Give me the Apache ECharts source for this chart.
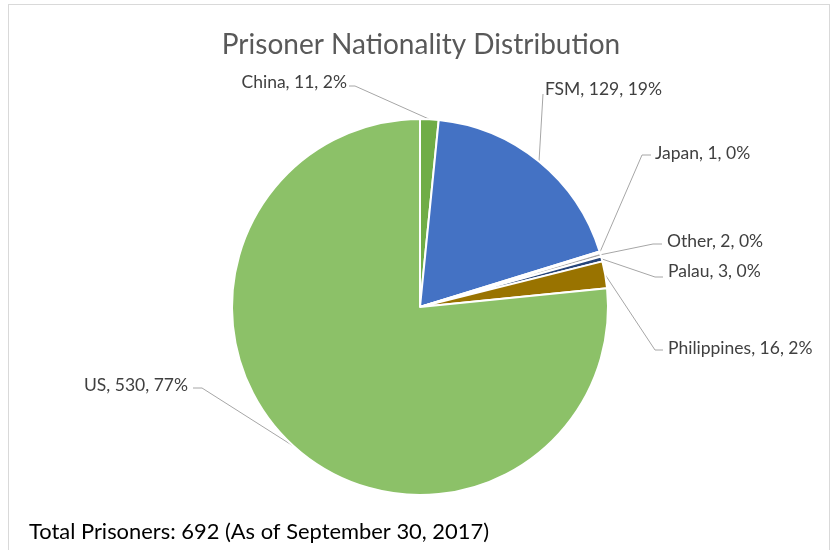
<!DOCTYPE html>
<html>
<head>
<meta charset="utf-8">
<script src="https://cdn.jsdelivr.net/npm/echarts@6/dist/echarts.min.js"></script>
<style>
html,body{margin:0;padding:0;background:#fff;}
#frame{position:absolute;left:8px;top:4px;width:822px;height:560px;border:1px solid #D9D9D9;box-sizing:border-box;}
#chart{position:absolute;left:0;top:0;width:836px;height:550px;}
</style>
</head>
<body>
<div id="frame"></div>
<div id="chart"></div>
<script>
// ---- data ----
const categories = ["China", "FSM", "Japan", "Other", "Palau", "Philippines", "US"];
const values = [11, 129, 1, 2, 3, 16, 530];
const percentLabels = ["2%", "19%", "0%", "0%", "0%", "2%", "77%"];
const titleText = "Prisoner Nationality Distribution";
const footnoteText = "Total Prisoners: 692 (As of September 30, 2017)";

// ---- styles / layout ----
const colors = ["#70AD47", "#4472C4", "#A9D18E", "#A5A5A5", "#264478", "#997300", "#8CC168"];
const labelPos = [
  {x: 347, y: 82, align: 'right', elbow: [355, 86], end: [349, 86]},
  {x: 545, y: 89, align: 'left', elbow: [543, 94], end: [543, 94]},
  {x: 655, y: 153, align: 'left', elbow: [642, 155], end: [651, 155]},
  {x: 667, y: 241, align: 'left', elbow: [653, 244], end: [662, 244]},
  {x: 668, y: 271, align: 'left', elbow: [655, 277], end: [663, 277]},
  {x: 668, y: 348, align: 'left', elbow: [655, 350], end: [663, 350]},
  {x: 188, y: 385, align: 'right', elbow: [202, 388], end: [193, 388]}
];
const FONT = 'Lato';

const chart = echarts.init(document.getElementById('chart'), null, {renderer: 'canvas'});
const cx = 420, cy = 307, R = 188;
const total = values.reduce((a, b) => a + b, 0);

chart.setOption({
  animation: false,
  title: [{
    text: titleText, left: 416, top: 40, textAlign: 'center', textVerticalAlign: 'middle',
    textStyle: {fontFamily: FONT, fontSize: 28, fontWeight: 'normal', color: '#595959'}
  }],
  graphic: [{
    type: 'text', x: 29, y: 532,
    style: {text: footnoteText, font: '21.9px ' + FONT, fill: '#000000', verticalAlign: 'middle', align: 'left'}
  }],
  series: [{
    type: 'pie',
    center: [cx, cy],
    radius: [0, R],
    startAngle: 90,
    clockwise: true,
    avoidLabelOverlap: false,
    data: categories.map((c, i) => ({name: c, value: values[i], itemStyle: {color: colors[i]}})),
    itemStyle: {borderColor: '#ffffff', borderWidth: 2},
    label: {
      show: true, position: 'outside',
      formatter: p => p.name + ', ' + p.value + ', ' + percentLabels[p.dataIndex],
      fontFamily: FONT, fontSize: 17.5, color: '#404040'
    },
    labelLine: {show: true, length: 10, length2: 10, lineStyle: {color: '#A6A6A6', width: 1}},
    labelLayout: function (params) {
      const p = labelPos[params.dataIndex];
      let start = params.labelLinePoints && params.labelLinePoints[0];
      if (!start) {
        let cum = 0;
        for (let k = 0; k < params.dataIndex; k++) cum += values[k];
        const mid = (cum + values[params.dataIndex] / 2) / total * 2 * Math.PI;
        start = [cx + R * Math.sin(mid), cy - R * Math.cos(mid)];
      }
      return {
        x: p.x, y: p.y, align: p.align, verticalAlign: 'middle',
        labelLinePoints: [start, p.elbow, p.end]
      };
    }
  }]
});
</script>
</body>
</html>
